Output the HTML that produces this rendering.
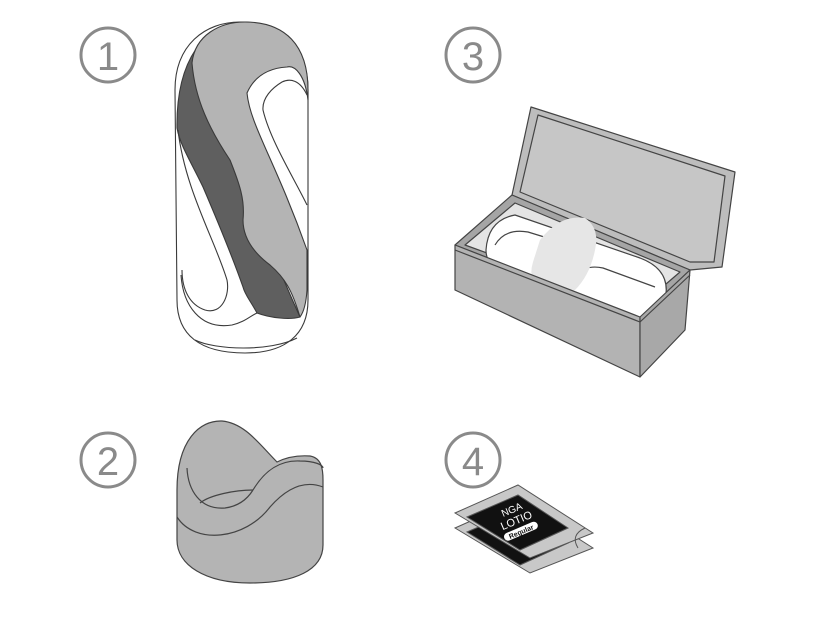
<!DOCTYPE html>
<html><head><style>html,body{margin:0;padding:0;background:#fff}svg{display:block}</style></head>
<body>
<svg width="834" height="625" viewBox="0 0 834 625" xmlns="http://www.w3.org/2000/svg" font-family="Liberation Sans, sans-serif">
<g fill="none" stroke="#8a8a8a" stroke-width="3">
<circle cx="108" cy="55" r="27"/><circle cx="473" cy="55" r="27"/>
<circle cx="108" cy="460" r="27"/><circle cx="473" cy="460" r="27"/>
</g>
<g fill="#8a8a8a" font-size="40" text-anchor="middle">
<text x="108" y="70">1</text><text x="473" y="70">3</text>
<text x="108" y="475">2</text><text x="473" y="475">4</text>
</g>

<!-- item 1 -->
<g stroke="#3a3a3a" stroke-width="1.1" stroke-linejoin="round">
<path d="M175,90 C175,45 205,22 240,22 C280,22 308,45 308,90 L308,300 C308,335 285,353 245,353 C200,353 177,335 177,300 Z" fill="#fff"/>
<path d="M177,128 C176,60 205,22 245,22 L260,24 L230,60 C232,160 270,250 300,317 C290,320 270,318 257,313 C250,300 245,295 243,287 C230,250 215,215 203,187 C190,160 180,145 177,128 Z" fill="#5f5f5f"/>
<path d="M192,63 C195,35 220,22 245,22 C285,22 308,45 308,90 L308,100 C305,75 295,65 287,67 C270,68 255,75 247,93 C250,125 275,160 307,250 L307,290 C306,305 303,313 300,317 C292,290 285,278 270,265 C250,250 243,235 243,220 C245,200 240,185 230,160 C210,130 195,100 192,63 Z" fill="#b4b4b4"/>
<path d="M307,95 C300,80 290,78 282,82 C272,88 262,98 263,110 C270,140 295,180 307,205" fill="none"/>
<path d="M178,130 C185,190 215,240 227,280 C230,295 222,315 205,310 C190,305 182,290 182,270" fill="none"/>
<path d="M181,275 C183,305 200,330 232,325 C245,322 250,316 257,313" fill="none"/>
<path d="M195,340 C215,350 270,352 297,338" fill="none"/>
</g>

<!-- item 2 -->
<g stroke="#444" stroke-width="1.2" fill="none">
<path d="M177,540 L177,490 C177,440 200,420 222,421 C245,423 260,445 277,462 C285,458 295,455 310,456 C322,458 323,470 323,480 L323,545 C323,570 295,583 250,583 C205,583 177,565 177,540 Z" fill="#b4b4b4"/>
<path d="M177,517 C195,545 245,540 270,507 C292,482 310,482 323,487"/>
<path d="M253,490 C265,470 280,460 300,461 C315,461 323,465 323,468"/>
<path d="M187,468 C188,490 200,510 225,508 C240,506 248,498 253,490"/>
<path d="M200,503 C210,495 235,490 253,490"/>
</g>

<!-- item 3 box -->
<g stroke="#444" stroke-width="1.2" stroke-linejoin="round">
<path d="M531,107 L735,172 L722,267 L690,270 L512,195 Z" fill="#bdbdbd"/>
<path d="M538,115 L725,176 L714,262 L690,262 L520,192 Z" fill="#c6c6c6"/>
<path d="M455,245 L512,195 L690,270 L640,317 Z" fill="#a5a5a5"/>
<path d="M465,245 L515,203 L680,272 L638,308 Z" fill="#e4e4e4"/>
<path d="M486,250 Q488,220 515,215 L640,258 Q672,270 665,300 Q655,325 630,320 L520,282 Q486,272 486,250 Z" fill="#fff"/>
<path d="M495,245 Q505,228 528,232 L580,248 M565,295 Q575,262 603,268 L655,287" fill="none"/>
<path d="M540,240 Q560,214 585,218 Q600,228 595,250 Q590,275 575,290 Q555,298 538,292 Q528,278 533,262 Z" fill="#e6e6e6" stroke="none"/>
<path d="M455,245 L640,317 L640,377 L455,290 Z" fill="#b3b3b3"/>
<path d="M640,317 L690,270 L685,330 L640,377 Z" fill="#a8a8a8"/>
<path d="M455,250 L640,322 L690,275" fill="none"/>
</g>

<!-- item 4 sachets -->
<g stroke="#555" stroke-width="1">
<path d="M455,528 L518,500 L593,548 L530,573 Z" fill="#c8c8c8"/>
<path d="M467,532 L518,510 L568,543 L520,565 Z" fill="#111"/>
<path d="M455,513 L518,485 L593,533 L530,558 Z" fill="#c8c8c8"/>
<path d="M467,517 L518,495 L568,528 L520,550 Z" fill="#111"/>
<path d="M585,528 Q570,535 578,548" fill="none"/>
</g>
<g transform="translate(517,522) rotate(-23)" text-anchor="middle">
<text x="0" y="-10" font-size="10" fill="#fff">NGA</text>
<text x="0" y="2" font-size="11" fill="#fff">LOTIO</text>
<rect x="-18" y="6" width="36" height="8" rx="4" fill="#fff"/>
<text x="0" y="13" font-size="7" fill="#111" font-weight="bold">Regular</text>
</g>
</svg>
</body></html>
